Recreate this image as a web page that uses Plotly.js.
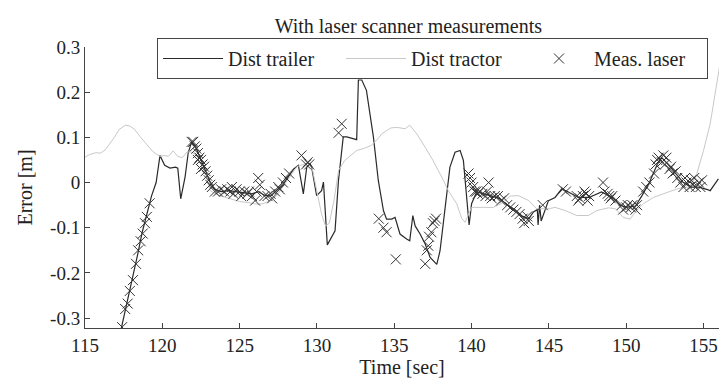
<!DOCTYPE html>
<html>
<head>
<meta charset="utf-8">
<script src="https://cdn.plot.ly/plotly-3.0.1.min.js"></script>
<style>html,body{margin:0;padding:0;background:#fff;}#chart{width:719px;height:383px;}</style>
</head>
<body>
<div id="chart"></div>
<script>
// ---- data ----
const trailerT = [117.3,117.5,117.8,118.1,118.4,118.7,119.0,119.3,119.6,119.85,120.15,120.5,120.85,121.0,121.19,121.47,121.68,121.9,122.2,122.5,122.8,123.1,123.4,123.8,124.3,124.8,125.3,125.8,126.2,126.6,127.0,127.4,127.8,128.2,128.5,128.8,129.12,129.34,129.55,129.65,129.98,130.3,130.42,130.67,131.17,131.39,131.7,131.93,132.57,132.68,132.9,133.2,133.4,133.65,133.97,134.3,134.5,134.84,135.05,135.37,135.8,136.0,136.2,136.35,136.67,137.0,137.32,137.75,137.96,138.29,138.6,138.93,139.26,139.47,139.69,139.84,140.0,140.33,140.8,141.3,141.8,142.3,142.8,143.3,143.7,144.0,144.25,144.3,144.4,144.5,144.75,144.97,145.4,145.83,146.26,146.9,147.6,148.4,149.1,149.6,150.0,150.6,151.0,151.5,152.0,152.3,152.7,153.2,153.7,154.2,154.7,155.2,155.43,155.96];
const trailerV = [-0.33,-0.30,-0.25,-0.21,-0.16,-0.11,-0.07,-0.03,0.0,0.06,0.038,0.032,0.034,0.032,-0.036,0.012,0.067,0.09,0.075,0.05,0.025,0.0,-0.015,-0.02,-0.018,-0.02,-0.022,-0.025,-0.02,-0.028,-0.03,-0.018,-0.005,0.015,0.03,0.038,-0.025,0.034,0.042,0.035,-0.029,-0.018,0.001,-0.138,-0.107,0.004,0.101,0.101,0.095,0.227,0.227,0.204,0.16,0.101,0.004,-0.062,-0.081,-0.081,-0.077,-0.114,-0.125,-0.129,-0.073,-0.096,-0.114,-0.136,-0.166,-0.181,-0.151,-0.062,0.034,0.067,0.071,0.049,-0.033,-0.094,-0.047,-0.021,-0.025,-0.03,-0.035,-0.05,-0.06,-0.075,-0.08,-0.065,-0.06,-0.094,-0.05,-0.085,-0.062,-0.04,-0.033,-0.014,-0.021,-0.033,-0.033,-0.021,-0.033,-0.05,-0.055,-0.052,-0.03,0.0,0.04,0.055,0.04,0.02,0.0,-0.01,-0.01,-0.015,-0.018,0.008];

const tractorT = [115.0,115.3,115.7,116.0,116.3,116.6,116.9,117.2,117.6,117.9,118.2,118.6,119.0,119.4,119.85,120.1,120.4,120.7,121.0,121.3,121.6,121.9,122.2,122.5,122.8,123.1,123.6,124.0,124.4,125.0,125.7,126.1,126.5,127.0,127.4,127.8,128.26,128.7,129.1,129.4,129.7,130.0,130.3,130.55,130.8,131.1,131.4,131.8,132.2,132.57,133.0,133.5,133.9,134.2,134.5,134.8,135.2,135.7,136.0,136.45,137.0,137.5,138.07,138.5,139.04,139.37,139.58,140.0,140.76,141.4,142.0,142.5,143.03,143.7,144.2,145.0,145.4,146.05,146.8,147.56,148.1,148.85,149.3,149.8,150.25,150.6,151.1,151.76,152.4,153.3,154.0,154.3,154.56,155.0,155.43,155.86,156.1];
const tractorV = [0.056,0.062,0.066,0.065,0.072,0.085,0.1,0.117,0.127,0.125,0.118,0.1,0.083,0.068,0.058,0.06,0.058,0.07,0.058,0.055,0.068,0.067,0.06,0.04,0.02,-0.018,-0.028,-0.032,-0.036,-0.042,-0.045,-0.048,-0.047,-0.04,-0.029,-0.01,0.012,0.035,0.04,0.042,0.03,-0.02,-0.07,-0.096,-0.09,-0.04,0.027,0.049,0.06,0.071,0.075,0.082,0.095,0.108,0.115,0.121,0.122,0.119,0.127,0.108,0.078,0.049,0.012,-0.018,-0.047,-0.08,-0.088,-0.055,-0.055,-0.055,-0.045,-0.03,-0.029,-0.04,-0.058,-0.058,-0.055,-0.062,-0.073,-0.073,-0.062,-0.056,-0.058,-0.077,-0.081,-0.065,-0.047,-0.033,-0.025,-0.014,-0.01,0.0,0.019,0.071,0.13,0.22,0.27];

const laserT = [117.4,117.6,117.76,117.9,118.1,118.3,118.44,118.6,118.73,118.88,119.0,119.18,
 121.9,122.0,122.1,122.2,122.3,122.3,122.4,122.5,122.5,122.6,122.7,122.8,122.9,123.0,123.1,123.2,123.4,
 123.6,123.8,124.0,124.2,124.4,124.5,124.6,124.8,125.0,125.1,125.3,125.5,125.6,125.8,126.0,126.1,126.2,126.3,
 126.6,126.8,127.0,127.1,127.3,127.5,127.6,127.8,128.0,128.2,
 129.0,129.3,129.4,129.5,
 131.4,131.6,
 134.0,134.3,134.5,135.1,
 137.0,137.1,137.2,137.25,137.4,137.5,137.6,137.7,
 139.8,139.9,140.0,140.1,140.2,140.3,140.4,140.5,140.7,140.9,141.0,141.1,141.2,141.3,141.5,
 141.7,141.9,142.1,142.3,142.5,142.7,142.9,143.1,143.3,143.4,143.6,143.7,
 144.6,145.9,146.1,
 146.8,146.9,147.0,147.2,147.3,147.4,147.5,147.6,
 148.5,148.6,148.8,148.9,149.0,149.1,149.3,
 149.7,149.8,150.0,150.1,150.3,150.4,150.6,150.7,
 151.1,151.3,151.5,151.8,151.9,
 152.0,152.1,152.3,152.4,152.5,152.6,152.8,152.9,153.0,153.2,153.3,153.5,
 153.7,153.8,153.9,154.1,154.2,154.3,154.4,154.5,154.7,154.8,154.9];
const laserV = [-0.32,-0.28,-0.268,-0.24,-0.216,-0.18,-0.15,-0.13,-0.113,-0.09,-0.076,-0.046,
 0.09,0.09,0.08,0.075,0.065,0.05,0.055,0.05,0.03,0.04,0.035,0.025,0.015,0.005,-0.005,-0.01,-0.02,
 -0.02,-0.015,-0.02,-0.015,-0.02,-0.01,-0.025,-0.015,-0.02,-0.03,-0.02,-0.025,-0.02,-0.03,-0.04,-0.02,0.01,-0.005,
 -0.03,-0.03,-0.025,-0.035,-0.02,-0.01,-0.015,0.0,0.01,0.02,
 0.06,0.04,0.045,0.04,
 0.11,0.13,
 -0.08,-0.1,-0.11,-0.17,
 -0.18,-0.15,-0.14,-0.12,-0.11,-0.09,-0.085,-0.08,
 0.02,0.01,0.0,-0.01,-0.02,-0.02,-0.025,-0.02,-0.025,-0.03,-0.02,0.0,-0.03,-0.035,-0.03,
 -0.03,-0.04,-0.035,-0.05,-0.055,-0.06,-0.065,-0.07,-0.08,-0.09,-0.075,-0.085,
 -0.05,-0.015,-0.02,
 -0.03,-0.04,-0.035,-0.03,-0.02,-0.025,-0.04,-0.03,
 0.0,-0.02,-0.025,-0.03,-0.035,-0.03,-0.04,
 -0.05,-0.06,-0.055,-0.05,-0.055,-0.05,-0.06,-0.05,
 -0.02,-0.01,0.0,0.02,0.04,
 0.05,0.055,0.045,0.06,0.04,0.055,0.03,0.035,0.02,0.025,0.01,0.0,
 -0.01,0.01,0.0,-0.01,0.005,-0.005,0.01,-0.01,0.0,-0.01,0.005];

const xTickVals = [115,120,125,130,135,140,145,150,155];
const yTickVals = [-0.3,-0.2,-0.1,0,0.1,0.2,0.3];
const yTickLabels = ['-0.3','-0.2','-0.1','0','0.1','0.2','0.3'];
const seriesNames = ['Dist trailer','Dist tractor','Meas. laser'];

const serif = 'Liberation Serif, Times New Roman, serif';

const traces = [
  {x: trailerT, y: trailerV, name: seriesNames[0], type: 'scatter', mode: 'lines',
   line: {color: '#2a2a2a', width: 1.2}},
  {x: tractorT, y: tractorV, name: seriesNames[1], type: 'scatter', mode: 'lines',
   line: {color: '#c8c8c8', width: 1}},
  {x: laserT, y: laserV, name: seriesNames[2], type: 'scatter', mode: 'markers',
   marker: {symbol: 'x-thin', size: 10, line: {color: '#333', width: 1}, color: '#333'}}
];

const layout = {
  width: 719, height: 383,
  margin: {l: 85, r: 0, t: 47, b: 55},
  paper_bgcolor: '#fff', plot_bgcolor: '#fff',
  font: {family: serif, size: 20, color: '#222'},
  title: {text: 'With laser scanner measurements', font: {family: serif, size: 20, color: '#222'},
          x: 0.51, xref: 'paper', y: 0.95, yref: 'container', xanchor: 'center'},
  showlegend: true,
  legend: {orientation: 'h', x: 0.1136, xref: 'paper', xanchor: 'left', y: 1.032, yref: 'paper', yanchor: 'top',
           bordercolor: '#444', borderwidth: 1, bgcolor: '#fff',
           font: {family: serif, size: 20, color: '#222'}, entrywidth: 108, itemwidth: 60},
  xaxis: {range: [115, 156], tickvals: xTickVals, ticks: 'inside', ticklen: 5, tickcolor: '#444',
          showline: true, linecolor: '#444', linewidth: 1, showgrid: false, zeroline: false,
          title: {text: 'Time [sec]', font: {family: serif, size: 20}, standoff: 2},
          tickfont: {family: serif, size: 19}},
  yaxis: {range: [-0.322, 0.3], tickvals: yTickVals, ticktext: yTickLabels, ticks: 'inside', ticklen: 5, tickcolor: '#444',
          showline: true, linecolor: '#444', linewidth: 1, showgrid: false, zeroline: false,
          title: {text: 'Error [m]', font: {family: serif, size: 20}, standoff: 12},
          tickfont: {family: serif, size: 19}}
};

Plotly.newPlot('chart', traces, layout, {staticPlot: true, displayModeBar: false});
</script>
</body>
</html>
